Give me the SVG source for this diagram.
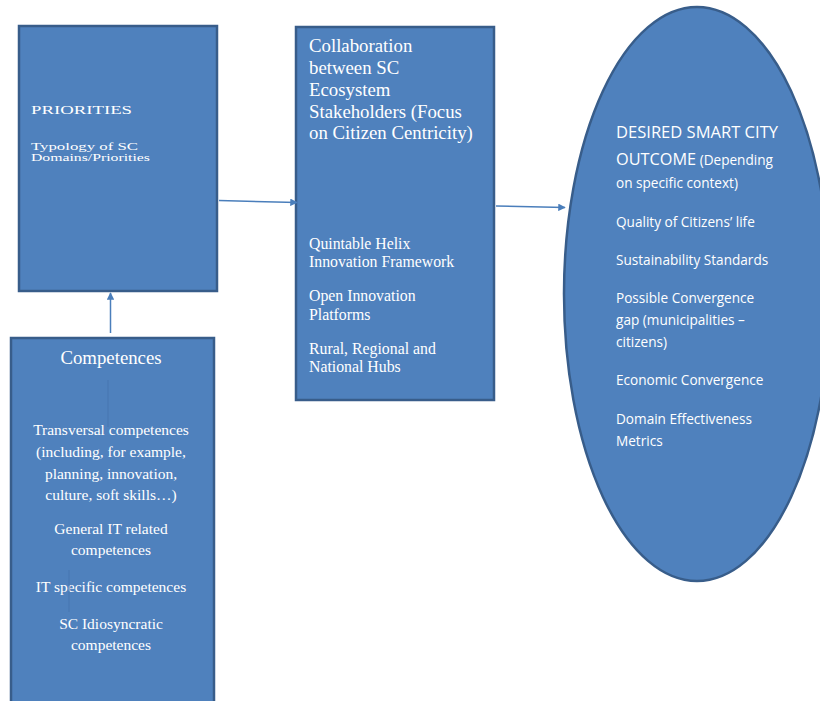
<svg xmlns="http://www.w3.org/2000/svg" width="820" height="701" viewBox="0 0 820 701">
<defs>
<style>
.box{fill:#4f81bd;stroke:#385d8a;stroke-width:2.5}
.conn{stroke:#4a7ebb;stroke-width:1.5;fill:none}
.faint{stroke:#4878b2;stroke-width:1.2;fill:none}
.serif{font-family:"Liberation Serif","Times New Roman",serif;fill:#ffffff}
.sans{font-family:"Open Sans","Liberation Sans",sans-serif;fill:#ffffff}
</style>
<marker id="ah" viewBox="0 0 10 10" refX="9" refY="5" markerWidth="5" markerHeight="5" orient="auto">
<path d="M0,0 L10,5 L0,10 z" fill="#4a7ebb"/>
</marker>
</defs>
<rect width="820" height="701" fill="#ffffff"/>
<g id="priorities">
<rect class="box" x="19" y="26" width="198" height="265"/>
<text class="serif" x="31" y="114" font-size="13" textLength="101" lengthAdjust="spacingAndGlyphs">PRIORITIES</text>
<text class="serif" x="31" y="150" font-size="10" textLength="107" lengthAdjust="spacingAndGlyphs">Typology of SC</text>
<text class="serif" x="31" y="161" font-size="10" textLength="119" lengthAdjust="spacingAndGlyphs">Domains/Priorities</text>
</g>
<g id="competences">
<rect class="box" x="11" y="338" width="203" height="370"/>
<g class="serif" text-anchor="middle">
<text x="111" y="364" font-size="18.8">Competences</text>
<text x="111" y="435" font-size="15.5">Transversal competences</text>
<text x="111" y="457" font-size="15.5">(including, for example,</text>
<text x="111" y="479" font-size="15.5">planning, innovation,</text>
<text x="111" y="500" font-size="15.5">culture, soft skills…)</text>
<text x="111" y="534" font-size="15.5">General IT related</text>
<text x="111" y="555" font-size="15.5">competences</text>
<text x="111" y="592" font-size="15.5">IT specific competences</text>
<text x="111" y="629" font-size="15.5">SC Idiosyncratic</text>
<text x="111" y="650" font-size="15.5">competences</text>
</g>
</g>
<g id="collaboration">
<rect class="box" x="296" y="27" width="198" height="373"/>
<g class="serif" font-size="18.8">
<text x="309" y="52">Collaboration</text>
<text x="309" y="74">between SC</text>
<text x="309" y="96">Ecosystem</text>
<text x="309" y="118">Stakeholders (Focus</text>
<text x="309" y="139">on Citizen Centricity)</text>
</g>
<g class="serif" font-size="15.8">
<text x="309" y="249">Quintable Helix</text>
<text x="309" y="267">Innovation Framework</text>
<text x="309" y="301">Open Innovation</text>
<text x="309" y="320">Platforms</text>
<text x="309" y="354">Rural, Regional and</text>
<text x="309" y="372">National Hubs</text>
</g>
</g>
<g id="outcome">
<ellipse class="box" cx="697" cy="294" rx="133" ry="287"/>
<g class="sans" font-size="13.6">
<text x="616" y="138" font-size="16.3" textLength="162" lengthAdjust="spacingAndGlyphs">DESIRED SMART CITY</text>
<text x="616" y="165"><tspan font-size="16.3">OUTCOME</tspan> (Depending</text>
<text x="616" y="188">on specific context)</text>
<text x="616" y="227">Quality of Citizens’ life</text>
<text x="616" y="265">Sustainability Standards</text>
<text x="616" y="303">Possible Convergence</text>
<text x="616" y="325">gap (municipalities –</text>
<text x="616" y="347">citizens)</text>
<text x="616" y="385">Economic Convergence</text>
<text x="616" y="424">Domain Effectiveness</text>
<text x="616" y="446">Metrics</text>
</g>
</g>
<g id="connectors">
<line class="conn" x1="219" y1="200.5" x2="297" y2="202.5" marker-end="url(#ah)"/>
<line class="conn" x1="496" y1="206" x2="565" y2="207.5" marker-end="url(#ah)"/>
<line class="conn" x1="110.5" y1="333" x2="110.5" y2="293" marker-end="url(#ah)"/>
<line class="faint" x1="108" y1="427" x2="108" y2="380"/>
<line class="faint" x1="69" y1="612" x2="69" y2="570"/>
</g>
</svg>
